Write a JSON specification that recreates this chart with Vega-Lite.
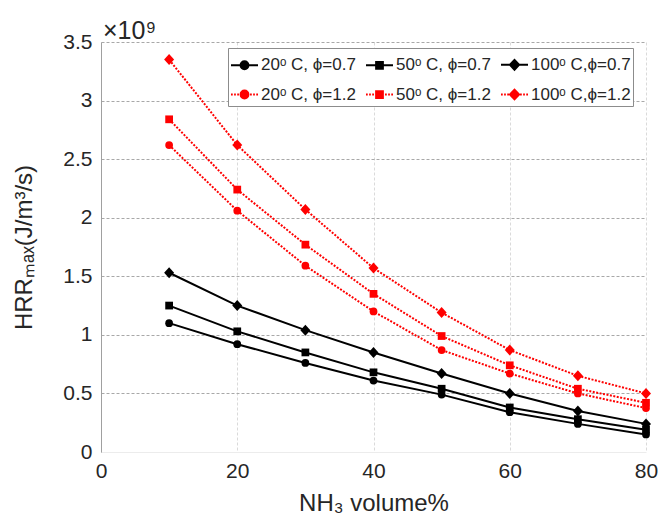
{
  "$schema": "https://vega.github.io/schema/vega-lite/v6.json",
  "autosize": "none",
  "width": 545,
  "height": 410,
  "padding": {"left": 101, "top": 42, "right": 14, "bottom": 79},
  "background": "white",
  "config": {"font": "Liberation Sans", "view": {"stroke": null}},
  "title": {"text": "×10⁹", "anchor": "start", "frame": "group", "fontSize": 25, "fontWeight": "normal", "color": "#262626", "offset": 0, "dx": 2, "dy": 13},
  "data": {"values": [
    {"x": 10, "hrr": 1.10e9, "series": "20ᵒ C, ϕ=0.7", "phi": 0.7},
    {"x": 20, "hrr": 0.92e9, "series": "20ᵒ C, ϕ=0.7", "phi": 0.7},
    {"x": 30, "hrr": 0.76e9, "series": "20ᵒ C, ϕ=0.7", "phi": 0.7},
    {"x": 40, "hrr": 0.61e9, "series": "20ᵒ C, ϕ=0.7", "phi": 0.7},
    {"x": 50, "hrr": 0.49e9, "series": "20ᵒ C, ϕ=0.7", "phi": 0.7},
    {"x": 60, "hrr": 0.34e9, "series": "20ᵒ C, ϕ=0.7", "phi": 0.7},
    {"x": 70, "hrr": 0.24e9, "series": "20ᵒ C, ϕ=0.7", "phi": 0.7},
    {"x": 80, "hrr": 0.15e9, "series": "20ᵒ C, ϕ=0.7", "phi": 0.7},
    {"x": 10, "hrr": 1.25e9, "series": "50ᵒ C, ϕ=0.7", "phi": 0.7},
    {"x": 20, "hrr": 1.03e9, "series": "50ᵒ C, ϕ=0.7", "phi": 0.7},
    {"x": 30, "hrr": 0.85e9, "series": "50ᵒ C, ϕ=0.7", "phi": 0.7},
    {"x": 40, "hrr": 0.68e9, "series": "50ᵒ C, ϕ=0.7", "phi": 0.7},
    {"x": 50, "hrr": 0.54e9, "series": "50ᵒ C, ϕ=0.7", "phi": 0.7},
    {"x": 60, "hrr": 0.38e9, "series": "50ᵒ C, ϕ=0.7", "phi": 0.7},
    {"x": 70, "hrr": 0.28e9, "series": "50ᵒ C, ϕ=0.7", "phi": 0.7},
    {"x": 80, "hrr": 0.19e9, "series": "50ᵒ C, ϕ=0.7", "phi": 0.7},
    {"x": 10, "hrr": 1.53e9, "series": "100ᵒ C,ϕ=0.7", "phi": 0.7},
    {"x": 20, "hrr": 1.25e9, "series": "100ᵒ C,ϕ=0.7", "phi": 0.7},
    {"x": 30, "hrr": 1.04e9, "series": "100ᵒ C,ϕ=0.7", "phi": 0.7},
    {"x": 40, "hrr": 0.85e9, "series": "100ᵒ C,ϕ=0.7", "phi": 0.7},
    {"x": 50, "hrr": 0.67e9, "series": "100ᵒ C,ϕ=0.7", "phi": 0.7},
    {"x": 60, "hrr": 0.50e9, "series": "100ᵒ C,ϕ=0.7", "phi": 0.7},
    {"x": 70, "hrr": 0.35e9, "series": "100ᵒ C,ϕ=0.7", "phi": 0.7},
    {"x": 80, "hrr": 0.24e9, "series": "100ᵒ C,ϕ=0.7", "phi": 0.7},
    {"x": 10, "hrr": 2.62e9, "series": "20ᵒ C, ϕ=1.2", "phi": 1.2},
    {"x": 20, "hrr": 2.06e9, "series": "20ᵒ C, ϕ=1.2", "phi": 1.2},
    {"x": 30, "hrr": 1.59e9, "series": "20ᵒ C, ϕ=1.2", "phi": 1.2},
    {"x": 40, "hrr": 1.20e9, "series": "20ᵒ C, ϕ=1.2", "phi": 1.2},
    {"x": 50, "hrr": 0.87e9, "series": "20ᵒ C, ϕ=1.2", "phi": 1.2},
    {"x": 60, "hrr": 0.67e9, "series": "20ᵒ C, ϕ=1.2", "phi": 1.2},
    {"x": 70, "hrr": 0.50e9, "series": "20ᵒ C, ϕ=1.2", "phi": 1.2},
    {"x": 80, "hrr": 0.375e9, "series": "20ᵒ C, ϕ=1.2", "phi": 1.2},
    {"x": 10, "hrr": 2.84e9, "series": "50ᵒ C, ϕ=1.2", "phi": 1.2},
    {"x": 20, "hrr": 2.24e9, "series": "50ᵒ C, ϕ=1.2", "phi": 1.2},
    {"x": 30, "hrr": 1.77e9, "series": "50ᵒ C, ϕ=1.2", "phi": 1.2},
    {"x": 40, "hrr": 1.35e9, "series": "50ᵒ C, ϕ=1.2", "phi": 1.2},
    {"x": 50, "hrr": 0.99e9, "series": "50ᵒ C, ϕ=1.2", "phi": 1.2},
    {"x": 60, "hrr": 0.74e9, "series": "50ᵒ C, ϕ=1.2", "phi": 1.2},
    {"x": 70, "hrr": 0.54e9, "series": "50ᵒ C, ϕ=1.2", "phi": 1.2},
    {"x": 80, "hrr": 0.42e9, "series": "50ᵒ C, ϕ=1.2", "phi": 1.2},
    {"x": 10, "hrr": 3.35e9, "series": "100ᵒ C,ϕ=1.2", "phi": 1.2},
    {"x": 20, "hrr": 2.62e9, "series": "100ᵒ C,ϕ=1.2", "phi": 1.2},
    {"x": 30, "hrr": 2.07e9, "series": "100ᵒ C,ϕ=1.2", "phi": 1.2},
    {"x": 40, "hrr": 1.57e9, "series": "100ᵒ C,ϕ=1.2", "phi": 1.2},
    {"x": 50, "hrr": 1.19e9, "series": "100ᵒ C,ϕ=1.2", "phi": 1.2},
    {"x": 60, "hrr": 0.87e9, "series": "100ᵒ C,ϕ=1.2", "phi": 1.2},
    {"x": 70, "hrr": 0.65e9, "series": "100ᵒ C,ϕ=1.2", "phi": 1.2},
    {"x": 80, "hrr": 0.50e9, "series": "100ᵒ C,ϕ=1.2", "phi": 1.2}
  ]},
  "encoding": {
    "x": {"field": "x", "type": "quantitative",
      "scale": {"domain": [0, 80], "nice": false},
      "axis": {"values": [0, 20, 40, 60, 80], "title": "NH₃ volume%", "titleFontSize": 24, "titleFontWeight": "normal", "titleColor": "#262626", "titlePadding": 10,
        "labelFontSize": 21, "labelColor": "#262626", "labelPadding": 8, "ticks": false,
        "domainColor": "#ececec", "gridColor": "#dadada", "gridDash": [3, 2], "labelFlush": false}},
    "y": {"field": "hrr", "type": "quantitative",
      "scale": {"domain": [0, 3500000000], "nice": false},
      "axis": {"values": [0, 500000000, 1000000000, 1500000000, 2000000000, 2500000000, 3000000000, 3500000000],
        "labelExpr": "'' + (datum.value / 1e9)",
        "title": "HRRₘₐₓ(J/m³/s)", "titleFontSize": 24, "titleFontWeight": "normal", "titleColor": "#262626", "titlePadding": 26,
        "labelFontSize": 21, "labelColor": "#262626", "labelPadding": 9, "ticks": false,
        "domainColor": "#a0a0a0", "gridColor": "#a8a8a8", "gridDash": [3, 2], "labelFlush": false}}
  },
  "resolve": {"scale": {"shape": "independent", "fill": "independent", "stroke": "independent"}},
  "layer": [
    {
      "data": {"values": [{}]},
      "mark": {"type": "rule", "color": "#c8c8c8", "strokeWidth": 1},
      "encoding": {"x": {"datum": 80}, "y": null}
    },
    {
      "transform": [{"filter": "datum.phi === 0.7"}],
      "mark": {"type": "line", "strokeWidth": 2, "color": "#000000"},
      "encoding": {"detail": {"field": "series", "type": "nominal"}}
    },
    {
      "transform": [{"filter": "datum.phi === 1.2"}],
      "mark": {"type": "line", "strokeWidth": 2, "color": "#ff0000", "strokeDash": [2, 1.5]},
      "encoding": {"detail": {"field": "series", "type": "nominal"}}
    },
    {
      "mark": {"type": "point", "filled": true, "size": 60, "opacity": 1},
      "encoding": {
        "color": {"field": "series", "type": "nominal",
          "scale": {"domain": ["20ᵒ C, ϕ=0.7", "50ᵒ C, ϕ=0.7", "100ᵒ C,ϕ=0.7", "20ᵒ C, ϕ=1.2", "50ᵒ C, ϕ=1.2", "100ᵒ C,ϕ=1.2"],
            "range": ["#000000", "#000000", "#000000", "#ff0000", "#ff0000", "#ff0000"]},
          "legend": null},
        "shape": {"field": "series", "type": "nominal",
          "scale": {"domain": ["20ᵒ C, ϕ=0.7", "50ᵒ C, ϕ=0.7", "100ᵒ C,ϕ=0.7", "20ᵒ C, ϕ=1.2", "50ᵒ C, ϕ=1.2", "100ᵒ C,ϕ=1.2"],
            "range": ["circle", "square", "M0,-1.42L1.29,0L0,1.42L-1.29,0Z", "circle", "square", "M0,-1.42L1.29,0L0,1.42L-1.29,0Z"]},
          "legend": null}
      }
    },
    {
      "mark": {"type": "point", "filled": true, "size": 0, "strokeWidth": 2, "opacity": 1},
      "encoding": {
        "fill": {"field": "series", "type": "nominal",
          "scale": {"domain": ["20ᵒ C, ϕ=0.7", "50ᵒ C, ϕ=0.7", "100ᵒ C,ϕ=0.7", "20ᵒ C, ϕ=1.2", "50ᵒ C, ϕ=1.2", "100ᵒ C,ϕ=1.2"],
            "range": ["#000000", "#000000", "#000000", "#ff0000", "#ff0000", "#ff0000"]},
          "legend": {
            "title": null, "orient": "none", "legendX": 127, "legendY": 6, "direction": "horizontal",
            "columns": 3, "columnPadding": 6, "rowPadding": 6, "padding": 2,
            "strokeColor": "#8c8c8c", "fillColor": "white",
            "labelFont": "Liberation Sans", "labelFontSize": 17, "labelColor": "#262626", "labelOffset": 2, "labelLimit": 200,
            "symbolSize": 729, "symbolStrokeWidth": 2, "symbolOpacity": 1}},
        "stroke": {"field": "series", "type": "nominal",
          "scale": {"domain": ["20ᵒ C, ϕ=0.7", "50ᵒ C, ϕ=0.7", "100ᵒ C,ϕ=0.7", "20ᵒ C, ϕ=1.2", "50ᵒ C, ϕ=1.2", "100ᵒ C,ϕ=1.2"],
            "range": ["#000000", "#000000", "#000000", "#ff0000", "#ff0000", "#ff0000"]},
          "legend": {
            "title": null, "orient": "none", "legendX": 127, "legendY": 6, "direction": "horizontal",
            "columns": 3, "columnPadding": 6, "rowPadding": 6, "padding": 2,
            "strokeColor": "#8c8c8c", "fillColor": "white",
            "labelFont": "Liberation Sans", "labelFontSize": 17, "labelColor": "#262626", "labelOffset": 2, "labelLimit": 200,
            "symbolSize": 729, "symbolStrokeWidth": 2, "symbolOpacity": 1}},
        "shape": {"field": "series", "type": "nominal",
          "scale": {"domain": ["20ᵒ C, ϕ=0.7", "50ᵒ C, ϕ=0.7", "100ᵒ C,ϕ=0.7", "20ᵒ C, ϕ=1.2", "50ᵒ C, ϕ=1.2", "100ᵒ C,ϕ=1.2"],
            "range": [
              "M-1,0H1M0.29,0A0.29,0.29,0,1,1,-0.29,0A0.29,0.29,0,1,1,0.29,0Z",
              "M-1,0H1M-0.25,-0.25H0.25V0.25H-0.25Z",
              "M-1,0H1M0,-0.36L0.34,0L0,0.36L-0.34,0Z",
              "M-1,0H-0.87M-0.77,0H-0.64M-0.54,0H-0.41M0.41,0H0.54M0.64,0H0.77M0.87,0H1M0.29,0A0.29,0.29,0,1,1,-0.29,0A0.29,0.29,0,1,1,0.29,0Z",
              "M-1,0H-0.87M-0.77,0H-0.64M-0.54,0H-0.41M0.41,0H0.54M0.64,0H0.77M0.87,0H1M-0.25,-0.25H0.25V0.25H-0.25Z",
              "M-1,0H-0.87M-0.77,0H-0.64M-0.54,0H-0.41M0.41,0H0.54M0.64,0H0.77M0.87,0H1M0,-0.36L0.34,0L0,0.36L-0.34,0Z"
            ]},
          "legend": {
            "title": null, "orient": "none", "legendX": 127, "legendY": 6, "direction": "horizontal",
            "columns": 3, "columnPadding": 6, "rowPadding": 6, "padding": 2,
            "strokeColor": "#8c8c8c", "fillColor": "white",
            "labelFont": "Liberation Sans", "labelFontSize": 17, "labelColor": "#262626", "labelOffset": 2, "labelLimit": 200,
            "symbolSize": 729, "symbolStrokeWidth": 2, "symbolOpacity": 1}}
      }
    }
  ]
}
